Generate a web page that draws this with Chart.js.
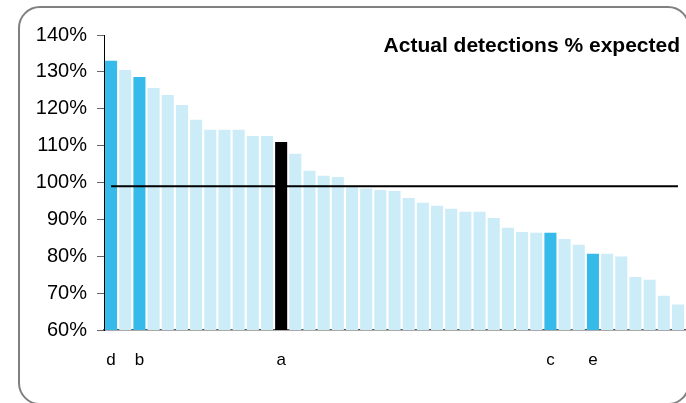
<!DOCTYPE html>
<html>
<head>
<meta charset="utf-8">
<script src="https://cdn.jsdelivr.net/npm/chart.js@4.4.1/dist/chart.umd.min.js"></script>
<style>
  html, body { margin: 0; padding: 0; background: #fff; }
  body { width: 686px; height: 403px; position: relative; overflow: hidden; font-family: "Liberation Sans", Arial, sans-serif; }
  #frame { position: absolute; left: 18px; top: 6px; width: 668px; height: 395px; border: 2px solid #808080; border-radius: 22px; }
  #wrap { position: absolute; left: 0; top: 0; width: 690px; height: 403px; }
  #title { position: absolute; right: 6px; top: 33px; font-weight: bold; font-size: 21px; color: #000; white-space: nowrap; }
</style>
</head>
<body>
<div id="frame"></div>
<div id="wrap"><canvas id="detections-chart" width="690" height="403"></canvas></div>
<div id="title">Actual detections % expected</div>
<script>
// data, sorted high to low
let actualPct = [133, 130.5, 128.6, 125.6, 123.7, 121.0, 117.0, 114.3, 114.3, 114.3,
                 112.6, 112.6, 111.0, 107.8, 103.2, 101.8, 101.5, 98.7, 98.4, 98.0,
                 97.7, 95.8, 94.5, 93.7, 92.9, 92.1, 92.1, 90.4, 87.7, 86.6,
                 86.4, 86.4, 84.7, 83.1, 80.7, 80.7, 79.9, 74.4, 73.6, 69.3, 66.9];
let markers = ['d', '', 'b', '', '', '', '', '', '', '',
               '', '', 'a', '', '', '', '', '', '', '',
               '', '', '', '', '', '', '', '', '', '',
               '', 'c', '', '', 'e', '', '', '', '', '', ''];
let categories = actualPct.map((v, i) => 'site ' + (i + 1));
let expectedLevel = 99;
let yTicks = [60, 70, 80, 90, 100, 110, 120, 130, 140];

const lightBlue = 'rgb(204, 236, 248)';
const brightBlue = 'rgb(53, 186, 233)';

// highlighted sites: blue for d/b/c/e, black for a
let barColors = markers.map(m => {
  if (m === 'a') return '#000000';
  if (m) return brightBlue;
  return lightBlue;
});

const canvas = document.getElementById('detections-chart');
new Chart(canvas, {
  data: {
    labels: categories,
    datasets: [{
      type: 'line',
      label: 'Expected',
      data: categories.map(() => expectedLevel),
      borderColor: '#000',
      borderWidth: 2,
      pointRadius: 0,
      order: 0
    }, {
      type: 'bar',
      label: 'Actual',
      data: actualPct,
      backgroundColor: barColors,
      barPercentage: 0.85,
      categoryPercentage: 1,
      order: 1
    }]
  },
  options: {
    responsive: false,
    animation: false,
    layout: { padding: { left: 0, right: 2, top: 35, bottom: 0 } },
    plugins: {
      legend: { display: false },
      tooltip: { enabled: false }
    },
    scales: {
      x: {
        grid: { display: false },
        border: { display: true, color: '#555', width: 1.5 },
        ticks: {
          autoSkip: false,
          maxRotation: 0,
          padding: 12,
          color: '#000',
          font: { family: '"Liberation Sans", Arial, sans-serif', size: 17 },
          callback: (v, i) => markers[i]
        },
        afterFit: s => { s.height = 73; }
      },
      y: {
        min: 60,
        max: 140,
        afterBuildTicks: s => { s.ticks = yTicks.map(v => ({ value: v })); },
        grid: { drawOnChartArea: false, tickLength: 7, color: '#666' },
        border: { display: true, color: '#000', width: 1 },
        ticks: {
          padding: 10,
          color: '#000',
          font: { family: '"Liberation Sans", Arial, sans-serif', size: 20 },
          callback: v => v + '%'
        },
        afterFit: s => { s.width = 104; }
      }
    }
  }
});
</script>
</body>
</html>
